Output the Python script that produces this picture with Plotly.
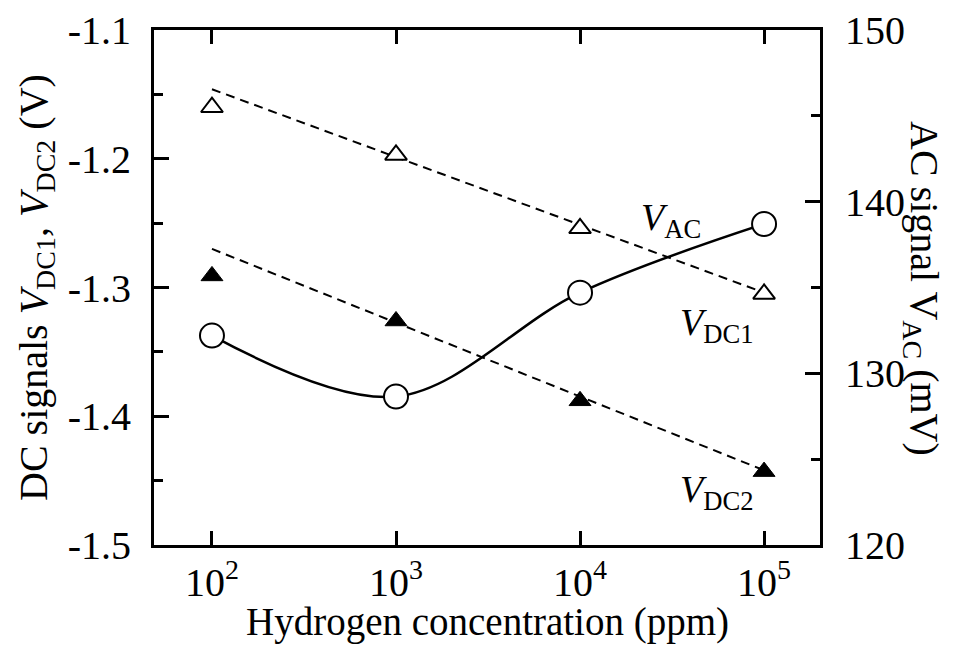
import plotly.graph_objects as go

# ---- data ----
conc = [1e2, 1e3, 1e4, 1e5]
vdc1 = [-1.160, -1.197, -1.254, -1.305]
vdc2 = [-1.291, -1.326, -1.388, -1.443]
vac = [132.2, 128.65, 134.7, 138.7]
fit_conc = [1e2, 1e5]
vdc1_fit = [-1.146, -1.304]
vdc2_fit = [-1.270, -1.442]

x_tickvals = [1e2, 1e3, 1e4, 1e5]
x_ticktext = ["10<sup>2</sup>", "10<sup>3</sup>", "10<sup>4</sup>", "10<sup>5</sup>"]
y_tickvals = [-1.5, -1.4, -1.3, -1.2, -1.1]
y_ticktext = ["-1.5", "-1.4", "-1.3", "-1.2", "-1.1"]
y2_tickvals = [120, 130, 140, 150]
y2_ticktext = ["120", "130", "140", "150"]

FONT = "Liberation Serif"
OFF = 8  # page body margin
W, H = 940, 639
L, R, T, B = 146, 128, 22, 102
PW, PH = W - L - R, H - T - B


def px_x(p):
    return (p - OFF - L) / PW


def px_y(p):
    return (H - B - (p - OFF)) / PH


fig = go.Figure()

dash = "9px,6px"
fig.add_trace(go.Scatter(x=fit_conc, y=vdc1_fit, mode="lines",
                         line=dict(color="black", width=2, dash=dash),
                         showlegend=False, yaxis="y"))
fig.add_trace(go.Scatter(x=fit_conc, y=vdc2_fit, mode="lines",
                         line=dict(color="black", width=2, dash=dash),
                         showlegend=False, yaxis="y"))
fig.add_trace(go.Scatter(x=conc, y=vac, mode="lines+markers", yaxis="y2",
                         line=dict(color="black", width=2.5, shape="spline", smoothing=1),
                         marker=dict(symbol="circle", size=24, color="white",
                                     line=dict(color="black", width=2)),
                         showlegend=False))
fig.add_trace(go.Scatter(x=conc, y=vdc1, mode="markers", yaxis="y",
                         marker=dict(symbol="triangle-up", size=19, color="white",
                                     line=dict(color="black", width=2)),
                         showlegend=False))
fig.add_trace(go.Scatter(x=conc, y=vdc2, mode="markers", yaxis="y",
                         marker=dict(symbol="triangle-up", size=19, color="black",
                                     line=dict(color="black", width=1)),
                         showlegend=False))

tickfont = dict(family=FONT, size=40, color="black")

fig.update_layout(
    width=W, height=H,
    margin=dict(l=L, r=R, t=T, b=B, autoexpand=False),
    paper_bgcolor="white", plot_bgcolor="white",
    font=dict(family=FONT, color="black"),
    xaxis=dict(type="log", range=[1.685, 5.304], tickmode="array",
               tickvals=x_tickvals, ticktext=x_ticktext, automargin=False,
               ticks="inside", ticklen=14, tickwidth=3, tickcolor="black",
               showline=True, linewidth=3, linecolor="black", mirror="ticks",
               showgrid=False, zeroline=False, tickfont=tickfont,
               ticklabelstandoff=0),
    yaxis=dict(range=[-1.5, -1.1], tickmode="array", automargin=False,
               tickvals=y_tickvals, ticktext=y_ticktext,
               ticks="inside", ticklen=15, tickwidth=3, tickcolor="black",
               minor=dict(ticks="inside", ticklen=9, tickwidth=3, tickcolor="black",
                          dtick=0.05, tick0=-1.5, showgrid=False),
               showline=True, linewidth=3, linecolor="black", mirror=False,
               showgrid=False, zeroline=False, tickfont=tickfont,
               ticklabelstandoff=12),
    yaxis2=dict(range=[120, 150], overlaying="y", side="right", tickmode="array",
                tickvals=y2_tickvals, ticktext=y2_ticktext, automargin=False,
                ticks="inside", ticklen=15, tickwidth=3, tickcolor="black",
                minor=dict(ticks="inside", ticklen=9, tickwidth=3, tickcolor="black",
                           dtick=5, tick0=120, showgrid=False),
                showline=True, linewidth=3, linecolor="black",
                showgrid=False, zeroline=False, tickfont=tickfont,
                ticklabelstandoff=14),
)

ann_font = dict(family=FONT, size=40, color="black")
lab_font = dict(family=FONT, size=38, color="black")
fig.add_annotation(text="Hydrogen concentration (ppm)", xref="paper", yref="paper",
                   x=px_x(487), y=px_y(622), showarrow=False,
                   font=dict(family=FONT, size=39, color="black"),
                   xanchor="center", yanchor="middle")
fig.add_annotation(text="DC signals <i>V</i><sub>DC1</sub>, <i>V</i><sub>DC2</sub> (V)",
                   xref="paper", yref="paper", x=px_x(36), y=px_y(288), textangle=-90,
                   showarrow=False, font=ann_font, xanchor="center", yanchor="middle")
fig.add_annotation(text="AC signal V<sub>AC</sub> (mV)",
                   xref="paper", yref="paper", x=px_x(922), y=px_y(288), textangle=90,
                   showarrow=False, font=ann_font, xanchor="center", yanchor="middle")
fig.add_annotation(text="<i>V</i><sub>AC</sub>", xref="paper", yref="paper",
                   x=px_x(671), y=px_y(220), showarrow=False, font=lab_font,
                   xanchor="center", yanchor="middle")
fig.add_annotation(text="<i>V</i><sub>DC1</sub>", xref="paper", yref="paper",
                   x=px_x(716), y=px_y(325), showarrow=False, font=lab_font,
                   xanchor="center", yanchor="middle")
fig.add_annotation(text="<i>V</i><sub>DC2</sub>", xref="paper", yref="paper",
                   x=px_x(716), y=px_y(492), showarrow=False, font=lab_font,
                   xanchor="center", yanchor="middle")

fig.write_html("out.html")
